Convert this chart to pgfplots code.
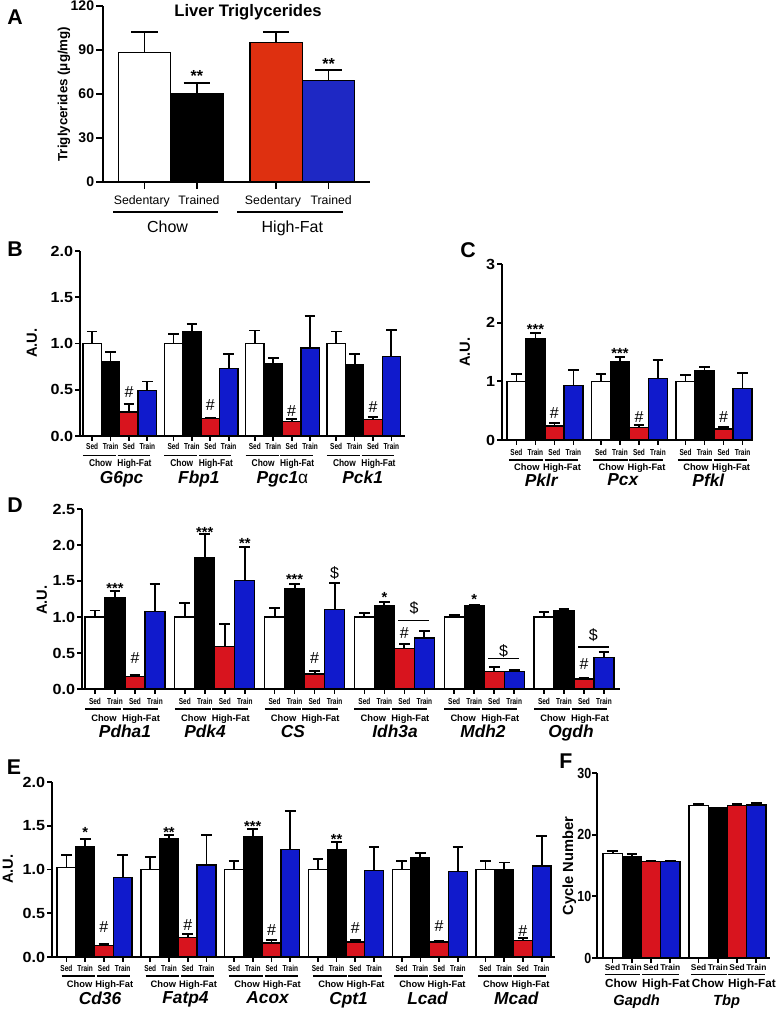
\documentclass[border=0pt]{standalone}
\usepackage{pgfplots}
\pgfplotsset{compat=1.18}
\usepackage{pgfplotstable}
\usepackage{fontspec}
\setmainfont{Liberation Sans}
\newfontfamily\widefont{Liberation Sans}[FakeStretch=1.1]
\newfontfamily\narrowfont{Liberation Sans}[FakeStretch=0.85]
\newfontfamily\condfont{Liberation Sans}[FakeStretch=0.75]

\definecolor{redA}{RGB}{222,48,16}
\definecolor{blueA}{RGB}{30,40,196}
\definecolor{redB}{RGB}{216,20,30}
\definecolor{blueB}{RGB}{16,26,204}

\newcommand\fs[1]{\fontsize{#1}{#1}\selectfont}
% positions: 1px of the 777x1011 reference = 0.75pt

\tikzset{
  lab/.style={inner sep=0pt, text depth=0pt, anchor=center},
  gene/.style={lab, font=\bfseries\itshape\fs{13}},
  stars/.style={lab, font=\bfseries\fs{11}, yshift=-2.4pt},
  hash/.style={lab, font=\fs{12}},
  dol/.style={lab, font=\fs{12}},
}

\pgfplotsset{
  panel/.style={scale only axis, anchor=south west, axis lines=left,
    axis line style={line width=1.6pt,-}, tick align=outside,
    major tick length=3.5pt, major tick style={line width=1.3pt,black},
    clip=false, ymin=0, xticklabels={}, enlargelimits=false,
    /pgf/number format/assume math mode=true,
    yticklabel style={font=\widefont\bfseries\fs{11}, inner sep=1.5pt}},
  onedec/.style={yticklabel style={/pgf/number format/fixed,
    /pgf/number format/fixed zerofill, /pgf/number format/precision=1}},
  bars/.style={ybar, bar width=1, bar shift=0pt, draw=black, line width=1pt,
    error bars/y dir=plus, error bars/y explicit,
    error bars/error bar style={line width=1.4pt, black},
    error bars/error mark options={rotate=90, line width=1.4pt, mark size=4pt, black}},
}

% four bars of each group: white, black, red, blue
\newcommand\fourbars[4]{%
  \addplot[bars, fill=white] table[x expr=\thisrow{g}*#2+0.5, y=w, y error=we] {#1};
  \addplot[bars, fill=black] table[x expr=\thisrow{g}*#2+1.5, y=k, y error=ke] {#1};
  \addplot[bars, fill=#3] table[x expr=\thisrow{g}*#2+2.5, y=r, y error=re] {#1};
  \addplot[bars, fill=#4] table[x expr=\thisrow{g}*#2+3.5, y=b, y error=be] {#1};
}
% labels under one group: offset, sed font, sed y, line y, chow y, chow font, shift
\newcommand\grp[7]{%
  \node[lab, font=#2] at ([yshift=-#3]axis cs:{#1+0.5},0) {Sed};
  \node[lab, font=#2] at ([yshift=-#3]axis cs:{#1+1.5},0) {Train};
  \node[lab, font=#2] at ([yshift=-#3]axis cs:{#1+2.5},0) {Sed};
  \node[lab, font=#2] at ([yshift=-#3]axis cs:{#1+3.5},0) {Train};
  \draw[line width=0.9pt] ([yshift=-#4]axis cs:{#1+#7},0) -- ([yshift=-#4]axis cs:{#1+#7+1.8},0);
  \draw[line width=0.9pt] ([yshift=-#4]axis cs:{#1+#7+1.88},0) -- ([yshift=-#4]axis cs:{#1+#7+3.65},0);
  \node[lab, font=#6] at ([yshift=-#5]axis cs:{#1+#7+0.95},0) {Chow};
  \node[lab, font=#6] at ([yshift=-#5]axis cs:{#1+#7+2.8},0) {High-Fat};
}
\newcommand\sedfont{\condfont\bfseries\fs{6.5}}
\newcommand\chowfont{\bfseries\fs{7}}

% value and error (upper) of each bar: white, black (train), red, blue
\pgfplotstableread{
g w we k ke r re b be
0 1.00 0.13 0.80 0.11 0.26 0.09 0.49 0.10
1 1.00 0.10 1.13 0.08 0.19 0.01 0.73 0.16
2 1.00 0.14 0.78 0.06 0.16 0.02 0.95 0.35
3 1.00 0.13 0.77 0.12 0.18 0.03 0.86 0.29
}\tabB
\pgfplotstableread{
g w we k ke r re b be
0 1.00 0.13 1.72 0.10 0.24 0.05 0.93 0.26
1 1.00 0.13 1.34 0.08 0.21 0.05 1.05 0.31
2 1.00 0.11 1.18 0.06 0.19 0.03 0.88 0.26
}\tabC
\pgfplotstableread{
g w we k ke r re b be
0 1.00 0.09 1.27 0.09 0.17 0.03 1.08 0.38
1 1.00 0.19 1.83 0.32 0.59 0.31 1.51 0.46
2 1.00 0.12 1.39 0.07 0.21 0.04 1.10 0.37
3 1.00 0.06 1.16 0.05 0.56 0.06 0.71 0.09
4 1.00 0.03 1.16 0.01 0.24 0.07 0.245 0.015
5 1.00 0.07 1.09 0.02 0.14 0.02 0.44 0.07
}\tabD
\pgfplotstableread{
g w we k ke r re b be
0 1.02 0.15 1.26 0.09 0.13 0.02 0.91 0.26
1 1.00 0.14 1.35 0.04 0.22 0.04 1.05 0.34
2 1.00 0.10 1.38 0.08 0.16 0.03 1.23 0.44
3 1.00 0.12 1.23 0.08 0.17 0.02 0.99 0.27
4 1.00 0.10 1.14 0.05 0.17 0.015 0.98 0.28
5 1.00 0.10 1.00 0.08 0.19 0.03 1.04 0.34
}\tabE
\pgfplotstableread{
g w we k ke r re b be
0 16.9 0.5 16.5 0.3 15.7 0.1 15.6 0.15
1 24.7 0.3 24.3 0.1 24.7 0.25 24.8 0.3
}\tabF

\begin{document}
\begin{tikzpicture}
\path[use as bounding box] (0,0) rectangle (582.75pt,-758.25pt);

% ---------- A
\begin{axis}[panel, at={(77.25pt,-136.5pt)}, width=200.25pt, height=132pt,
  xmin=-0.29, xmax=4.8, ymax=120, ytick={0,30,60,90,120},
  xtick={0.5,1.5,3.01,4.01}, major tick length=5pt,
  yticklabel style={font=\bfseries\fs{10.5}}]
\addplot[bars, fill=white, error bars/error mark options={rotate=90, line width=1.4pt, mark size=10pt, black}] coordinates {(0.5,88.4) +- (0,14.1)};
\addplot[bars, fill=black, error bars/error mark options={rotate=90, line width=1.4pt, mark size=10pt, black}] coordinates {(1.5,60.2) +- (0,7.5)};
\addplot[bars, fill=redA, error bars/error mark options={rotate=90, line width=1.4pt, mark size=10pt, black}] coordinates {(3.01,95.2) +- (0,6.8)};
\addplot[bars, fill=blueA, error bars/error mark options={rotate=90, line width=1.4pt, mark size=10pt, black}] coordinates {(4.01,69.3) +- (0,7.3)};
\node[stars, font=\bfseries\fs{12}] at (axis cs:1.5,74.5) {**};
\node[stars, font=\bfseries\fs{12}] at (axis cs:4.01,82.5) {**};
\node[lab, font=\fs{9.2}] at ([yshift=-13.5pt]axis cs:0.45,0) {Sedentary};
\node[lab, font=\fs{9.2}] at ([yshift=-13.5pt]axis cs:1.54,0) {Trained};
\node[lab, font=\fs{9.2}] at ([yshift=-13.5pt]axis cs:2.95,0) {Sedentary};
\node[lab, font=\fs{9.2}] at ([yshift=-13.5pt]axis cs:4.06,0) {Trained};
\draw[line width=1.2pt] ([yshift=-22.5pt]axis cs:-0.095,0) -- ([yshift=-22.5pt]axis cs:1.905,0);
\draw[line width=1.2pt] ([yshift=-22.5pt]axis cs:2.27,0) -- ([yshift=-22.5pt]axis cs:4.29,0);
\node[lab, font=\fs{12}] at ([yshift=-33.75pt]axis cs:0.94,0) {Chow};
\node[lab, font=\fs{12}] at ([yshift=-33.75pt]axis cs:3.32,0) {High-Fat};
\end{axis}

% ---------- B
\begin{axis}[panel, onedec, at={(60pt,-327pt)}, width=243.75pt, height=138.75pt,
  xmin=-0.16, xmax=17.5, ymax=2, ytick={0,0.5,1,1.5,2},
  xtick={0.5,1.5,2.5,3.5,4.92,5.92,6.92,7.92,9.34,10.34,11.34,12.34,13.76,14.76,15.76,16.76}]
\fourbars{\tabB}{4.42}{redB}{blueB}
\node[hash] at (axis cs:2.5,0.471) {\#};
\node[hash] at (axis cs:6.92,0.335) {\#};
\node[hash] at (axis cs:11.34,0.27) {\#};
\node[hash] at (axis cs:15.76,0.317) {\#};
\grp{0}{\sedfont}{7.5pt}{14.75pt}{20pt}{\narrowfont\bfseries\fs{7.4}}{0}
\grp{4.42}{\sedfont}{7.5pt}{14.75pt}{20pt}{\narrowfont\bfseries\fs{7.4}}{0}
\grp{8.84}{\sedfont}{7.5pt}{14.75pt}{20pt}{\narrowfont\bfseries\fs{7.4}}{0}
\grp{13.26}{\sedfont}{7.5pt}{14.75pt}{20pt}{\narrowfont\bfseries\fs{7.4}}{0}
\node[gene] at ([yshift=-31pt]axis cs:2.1,0) {G6pc};
\node[gene] at ([yshift=-31pt]axis cs:6.3,0) {Fbp1};
\node[gene] at ([yshift=-31pt]axis cs:10.84,0) {Pgc1\textup{\mdseries α}};
\node[gene] at ([yshift=-31pt]axis cs:15.2,0) {Pck1};
\end{axis}

% ---------- C
\begin{axis}[panel, at={(376.5pt,-330pt)}, width=188.25pt, height=132pt,
  xmin=-0.26, xmax=12.95, ymax=3, ytick={0,1,2,3},
  xtick={0.5,1.5,2.5,3.5,4.95,5.95,6.95,7.95,9.4,10.4,11.4,12.4}]
\fourbars{\tabC}{4.45}{redB}{blueB}
\node[stars] at (axis cs:1.5,1.943) {***};
\node[stars] at (axis cs:5.95,1.534) {***};
\node[hash] at (axis cs:2.5,0.455) {\#};
\node[hash] at (axis cs:6.95,0.398) {\#};
\node[hash] at (axis cs:11.4,0.398) {\#};
\grp{0}{\sedfont}{9pt}{15pt}{20.5pt}{\chowfont}{0.1}
\grp{4.45}{\sedfont}{9pt}{15pt}{20.5pt}{\chowfont}{0.1}
\grp{8.9}{\sedfont}{9pt}{15pt}{20.5pt}{\chowfont}{0.1}
\node[gene] at ([yshift=-30pt]axis cs:1.8,0) {Pklr};
\node[gene] at ([yshift=-30pt]axis cs:6.1,0) {Pcx};
\node[gene] at ([yshift=-30pt]axis cs:10.6,0) {Pfkl};
\end{axis}

% ---------- D
\begin{axis}[panel, onedec, at={(61.5pt,-516.75pt)}, width=403.5pt, height=135pt,
  xmin=-0.15, xmax=26.75, ymax=2.5, ytick={0,0.5,1,1.5,2,2.5},
  xtick={0.5,1.5,2.5,3.5,4.99,5.99,6.99,7.99,9.48,10.48,11.48,12.48,13.97,14.97,15.97,16.97,18.46,19.46,20.46,21.46,22.95,23.95,24.95,25.95}]
\fourbars{\tabD}{4.49}{redB}{blueB}
\node[stars] at (axis cs:1.5,1.435) {***};
\node[hash] at (axis cs:2.5,0.43) {\#};
\node[stars] at (axis cs:5.99,2.22) {***};
\node[stars] at (axis cs:7.99,2.06) {**};
\node[stars] at (axis cs:10.48,1.57) {***};
\node[hash] at (axis cs:11.48,0.43) {\#};
\node[dol] at (axis cs:12.48,1.615) {\$};
\node[stars] at (axis cs:14.97,1.31) {*};
\node[hash] at (axis cs:15.97,0.78) {\#};
\draw[line width=1pt] (axis cs:15.67,0.954) -- (axis cs:17.22,0.954);
\node[dol] at (axis cs:16.45,1.125) {\$};
\node[stars] at (axis cs:19.46,1.29) {*};
\draw[line width=1pt] (axis cs:20.16,0.426) -- (axis cs:21.71,0.426);
\node[dol] at (axis cs:20.93,0.537) {\$};
\node[hash] at (axis cs:24.95,0.35) {\#};
\draw[line width=1pt] (axis cs:24.65,0.583) -- (axis cs:26.2,0.583);
\node[dol] at (axis cs:25.42,0.755) {\$};
\grp{0}{\sedfont}{9pt}{15pt}{21.75pt}{\chowfont}{0}
\grp{4.49}{\sedfont}{9pt}{15pt}{21.75pt}{\chowfont}{0}
\grp{8.98}{\sedfont}{9pt}{15pt}{21.75pt}{\chowfont}{0}
\grp{13.47}{\sedfont}{9pt}{15pt}{21.75pt}{\chowfont}{0}
\grp{17.96}{\sedfont}{9pt}{15pt}{21.75pt}{\chowfont}{0}
\grp{22.45}{\sedfont}{9pt}{15pt}{21.75pt}{\chowfont}{0}
\node[gene] at ([yshift=-31.5pt]axis cs:2.0,0) {Pdha1};
\node[gene] at ([yshift=-31.5pt]axis cs:6.0,0) {Pdk4};
\node[gene] at ([yshift=-31.5pt]axis cs:10.4,0) {CS};
\node[gene] at ([yshift=-31.5pt]axis cs:15.5,0) {Idh3a};
\node[gene] at ([yshift=-31.5pt]axis cs:19.9,0) {Mdh2};
\node[gene] at ([yshift=-31.5pt]axis cs:24.3,0) {Ogdh};
\end{axis}

% ---------- E
\begin{axis}[panel, onedec, at={(39pt,-717.75pt)}, width=377.25pt, height=131.25pt,
  xmin=-0.27, xmax=26.56, ymax=2, ytick={0,0.5,1,1.5,2},
  xtick={0.5,1.5,2.5,3.5,4.97,5.97,6.97,7.97,9.44,10.44,11.44,12.44,13.91,14.91,15.91,16.91,18.38,19.38,20.38,21.38,22.85,23.85,24.85,25.85}]
\fourbars{\tabE}{4.47}{redB}{blueB}
\node[stars] at (axis cs:1.5,1.455) {*};
\node[stars] at (axis cs:5.97,1.46) {**};
\node[stars] at (axis cs:10.44,1.53) {***};
\node[stars] at (axis cs:14.91,1.38) {**};
\node[hash] at (axis cs:2.5,0.34) {\#};
\node[hash] at (axis cs:6.97,0.37) {\#};
\node[hash] at (axis cs:11.44,0.31) {\#};
\node[hash] at (axis cs:15.91,0.33) {\#};
\node[hash] at (axis cs:20.38,0.35) {\#};
\node[hash] at (axis cs:24.85,0.30) {\#};
\grp{0}{\sedfont}{8.25pt}{14.25pt}{20.25pt}{\chowfont}{0.25}
\grp{4.47}{\sedfont}{8.25pt}{14.25pt}{20.25pt}{\chowfont}{0.25}
\grp{8.94}{\sedfont}{8.25pt}{14.25pt}{20.25pt}{\chowfont}{0.25}
\grp{13.41}{\sedfont}{8.25pt}{14.25pt}{20.25pt}{\chowfont}{0.25}
\grp{17.88}{\sedfont}{8.25pt}{14.25pt}{20.25pt}{\chowfont}{0.1}
\grp{22.35}{\sedfont}{8.25pt}{14.25pt}{20.25pt}{\chowfont}{0.1}
\node[gene] at ([yshift=-30.75pt]axis cs:2.29,0) {Cd36};
\node[gene] at ([yshift=-30.75pt]axis cs:6.85,0) {Fatp4};
\node[gene] at ([yshift=-30.75pt]axis cs:11.23,0) {Acox};
\node[gene] at ([yshift=-30.75pt]axis cs:15.55,0) {Cpt1};
\node[gene] at ([yshift=-30.75pt]axis cs:19.76,0) {Lcad};
\node[gene] at ([yshift=-30.75pt]axis cs:24.5,0) {Mcad};
\end{axis}

% ---------- F
\begin{axis}[panel, at={(447.75pt,-718.5pt)}, width=129.75pt, height=138.75pt,
  xmin=-0.31, xmax=8.68, ymax=30, ytick={0,10,20,30},
  xtick={0.5,1.5,2.5,3.5,4.97,5.97,6.97,7.97},
  yticklabel style={font=\narrowfont\bfseries\fs{11}, inner sep=0.6pt}]
\fourbars{\tabF}{4.47}{redB}{blueB}
\node[lab, font=\bfseries\fs{6.3}] at ([yshift=-6.75pt]axis cs:0.5,0) {Sed};
\node[lab, font=\bfseries\fs{6.3}] at ([yshift=-6.75pt]axis cs:1.5,0) {Train};
\node[lab, font=\bfseries\fs{6.3}] at ([yshift=-6.75pt]axis cs:2.5,0) {Sed};
\node[lab, font=\bfseries\fs{6.3}] at ([yshift=-6.75pt]axis cs:3.5,0) {Train};
\node[lab, font=\bfseries\fs{6.3}] at ([yshift=-6.75pt]axis cs:4.97,0) {Sed};
\node[lab, font=\bfseries\fs{6.3}] at ([yshift=-6.75pt]axis cs:5.97,0) {Train};
\node[lab, font=\bfseries\fs{6.3}] at ([yshift=-6.75pt]axis cs:6.97,0) {Sed};
\node[lab, font=\bfseries\fs{6.3}] at ([yshift=-6.75pt]axis cs:7.97,0) {Train};
\draw[line width=0.7pt] ([yshift=-12pt]axis cs:0.1,0) -- ([yshift=-12pt]axis cs:1.95,0);
\draw[line width=0.7pt] ([yshift=-12pt]axis cs:2.05,0) -- ([yshift=-12pt]axis cs:3.95,0);
\draw[line width=0.7pt] ([yshift=-12pt]axis cs:4.57,0) -- ([yshift=-12pt]axis cs:6.42,0);
\draw[line width=0.7pt] ([yshift=-12pt]axis cs:6.52,0) -- ([yshift=-12pt]axis cs:8.42,0);
\node[lab, font=\bfseries\fs{8.8}] at ([yshift=-18.75pt]axis cs:0.94,0) {Chow};
\node[lab, font=\bfseries\fs{8.8}] at ([yshift=-18.75pt]axis cs:3.27,0) {High-Fat};
\node[lab, font=\bfseries\fs{8.8}] at ([yshift=-18.75pt]axis cs:5.45,0) {Chow};
\node[lab, font=\bfseries\fs{8.8}] at ([yshift=-18.75pt]axis cs:7.74,0) {High-Fat};
\node[gene, font=\bfseries\itshape\fs{11}] at ([yshift=-31.5pt]axis cs:1.75,0) {Gapdh};
\node[gene, font=\bfseries\itshape\fs{11}] at ([yshift=-31.5pt]axis cs:6.42,0) {Tbp};
\end{axis}

% ---------- titles, axis titles and panel letters
\node[font=\bfseries\fs{12.5}] at (186pt,-9pt) {Liver Triglycerides};
\node[rotate=90, font=\bfseries\fs{10}] at (48pt,-70.5pt) {Triglycerides (μg/mg)};
\node[rotate=90, font=\bfseries\fs{11}] at (24pt,-257.25pt) {A.U.};
\node[rotate=90, font=\bfseries\fs{11}] at (348.75pt,-264pt) {A.U.};
\node[rotate=90, font=\bfseries\fs{11}] at (31.5pt,-450pt) {A.U.};
\node[rotate=90, font=\bfseries\fs{11}] at (6pt,-651.75pt) {A.U.};
\node[rotate=90, font=\bfseries\fs{11}] at (427pt,-649.5pt) {Cycle Number};
\node[font=\bfseries\fs{16}] at (11.25pt,-12.75pt) {A};
\node[font=\bfseries\fs{16}] at (11.25pt,-186.75pt) {B};
\node[font=\bfseries\fs{16}] at (351pt,-187.5pt) {C};
\node[font=\bfseries\fs{16}] at (11.25pt,-378.75pt) {D};
\node[font=\bfseries\fs{16}] at (10.5pt,-575.25pt) {E};
\node[font=\bfseries\fs{16}] at (424.5pt,-570.75pt) {F};
\end{tikzpicture}
\end{document}
